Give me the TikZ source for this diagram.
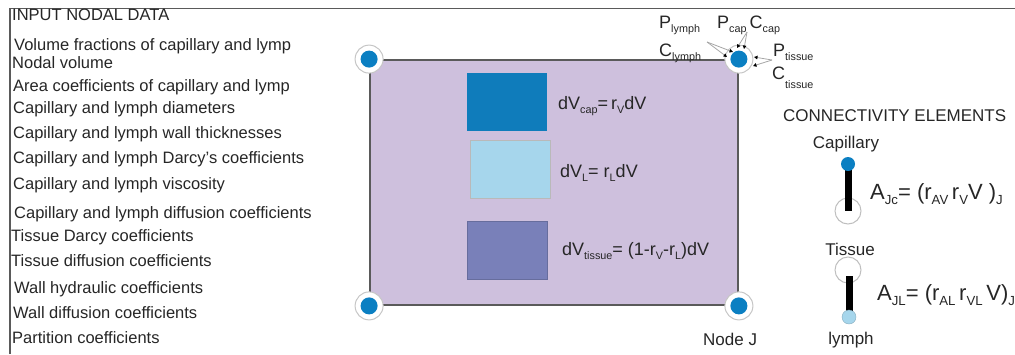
\documentclass[tikz,border=0pt]{standalone}
\usepackage{fontspec}
\setmainfont{Liberation Sans}
\usetikzlibrary{arrows.meta}
\definecolor{lav}{HTML}{CEC0DD}
\definecolor{dotblue}{HTML}{0B7FC2}
\definecolor{capblue}{HTML}{0F7CBB}
\definecolor{lymblue}{HTML}{A6D6EC}
\definecolor{tisblue}{HTML}{7980B9}
\definecolor{txt}{HTML}{262626}
\definecolor{framec}{HTML}{5A5A5A}
\newcommand\lo[1]{\raisebox{-0.5ex}{\scalebox{0.6}{#1}}}
\newcommand\llo[1]{\raisebox{-1.0ex}{\scalebox{0.6}{#1}}}
\begin{document}
\begin{tikzpicture}[x=1pt,y=-1pt,
  every node/.style={inner sep=0pt, text=txt},
  listitem/.style={anchor=mid west, font=\fontsize{16.5}{18}\selectfont},
  lbl/.style={font=\fontsize{17}{19}\selectfont},
  corner/.style={font=\fontsize{18}{20}\selectfont, anchor=base west},
  eqn/.style={anchor=west, font=\fontsize{18}{20}\selectfont},
  bigeqn/.style={anchor=west, font=\fontsize{22}{24}\selectfont},
  ring/.style={circle, draw=gray!45, line width=1pt, fill=white, minimum size=28pt},
  dot/.style={circle, fill=dotblue, minimum size=17pt},
  volbox/.style={minimum width=80pt, minimum height=58pt},
  tip/.style={draw=gray!70, line width=0.8pt, -{Triangle[length=3.5pt,width=3.5pt,color=black]}},
  bar/.style={line width=7pt, black},
]
\useasboundingbox (0,0) rectangle (1015,354);
% frame
\draw[framec, line width=1.6pt] (10,354) -- (10,8.5) -- (1015,8.5);

% input list
\node[listitem] (h) at (12,18) {INPUT NODAL DATA};
\node[listitem] (i1) at (14,48) {Volume fractions of capillary and lymp};
\node[listitem] (i2) at (12,66) {Nodal volume};
\node[listitem] (i3) at (13,88.5) {Area coefficients of capillary and lymp};
\node[listitem] (i4) at (13,110.5) {Capillary and lymph diameters};
\node[listitem] (i5) at (13,135.5) {Capillary and lymph wall thicknesses};
\node[listitem] (i6) at (13,160.5) {Capillary and lymph Darcy's coefficients};
\node[listitem] (i7) at (13,186.5) {Capillary and lymph viscosity};
\node[listitem] (i8) at (14,215.5) {Capillary and lymph diffusion coefficients};
\node[listitem] (i9) at (11,238.5) {Tissue Darcy coefficients};
\node[listitem] (i10) at (11,263.5) {Tissue diffusion coefficients};
\node[listitem] (i11) at (14,290.5) {Wall hydraulic coefficients};
\node[listitem] (i12) at (13,315.5) {Wall diffusion coefficients};
\node[listitem] (i13) at (12,340.5) {Partition coefficients};

% nodal element
\node[draw=framec, line width=1.8pt, fill=lav, minimum width=368pt, minimum height=245pt] (elem) at (554,182.5) {};
\foreach \c/\p in {cnw/north west, cne/north east, csw/south west, cse/south east}{
  \node[ring] (\c r) at (elem.\p) {};
  \node[dot] (\c) at (elem.\p) {};
}

% volume boxes
\node[volbox, fill=capblue] (vcap) at (507,102) {};
\node[volbox, fill=lymblue, draw=gray!55, line width=0.8pt] (vlym) at (510,169.5) {};
\node[volbox, fill=tisblue, draw=tisblue!85!black, line width=0.5pt] (vtis) at (507.5,250.5) {};
\node[eqn] (ecap) at (558,106) {dV\lo{cap}=\,r\lo{V}dV};
\node[eqn] (elym) at (560,173) {dV\lo{L}= r\lo{L}dV};
\node[eqn] (etis) at (562,251) {dV\lo{tissue}= (1-r\lo{V}-r\lo{L})dV};

% labels at node J (top right corner)
\node[corner] (plym) at (659,28) {P\lo{lymph}};
\node[corner] (clym) at (659,56) {C\lo{lymph}};
\node[corner] (pcap) at (717,28) {P\lo{cap}\,C\lo{cap}};
\node[corner] (ptis) at (773,56) {P\lo{tissue}};
\node[corner] (ctis) at (772,79) {C\llo{tissue}};
\coordinate (al) at (707,42);
\coordinate (at) at (747,32);
\coordinate (ar) at (772,60);
\coordinate (t1) at (727,57);
\coordinate (t2) at (733,52);
\coordinate (t3) at (737,48);
\coordinate (t4) at (744,49);
\coordinate (t5) at (754,57);
\coordinate (t6) at (753,66);
\draw[tip] (al) -- (t1);
\draw[tip] (al) -- (t2);
\draw[tip] (at) -- (t3);
\draw[tip] (at) -- (t4);
\draw[tip] (ar) -- (t5);
\draw[tip] (ar) -- (t6);

\node[lbl, anchor=mid west] (nj) at (703,343) {Node J};

% connectivity elements
\node[lbl, anchor=mid west] (ce) at (783,119) {CONNECTIVITY ELEMENTS};
\node[lbl] (capl) at (846,144) {Capillary};
\node[ring, minimum size=26pt, draw=gray!50] (r1) at (848,211) {};
\coordinate (cc) at (848,164);
\draw[bar] (cc) -- (r1.center);
\node[circle, fill=dotblue, minimum size=14pt] (cdot) at (cc) {};
\node[bigeqn] (ajc) at (870,194) {A\lo{Jc}= (r\lo{AV}\,r\lo{V}V )\lo{J}};

\node[lbl] (tisl) at (850,249) {Tissue};
\node[ring, minimum size=26pt, draw=gray!50] (r2) at (848,270) {};
\coordinate (lc) at (849,317);
\draw[bar] (849,276) -- (lc);
\node[circle, fill=lymblue, draw=lymblue!80!black, line width=0.4pt, minimum size=14pt] (ldot) at (lc) {};
\node[bigeqn] (ajl) at (877,295) {A\lo{JL}= (r\lo{AL}\,r\lo{VL}\,V)\lo{J}};
\node[lbl] (lyl) at (851,340) {lymph};
\end{tikzpicture}
\end{document}
